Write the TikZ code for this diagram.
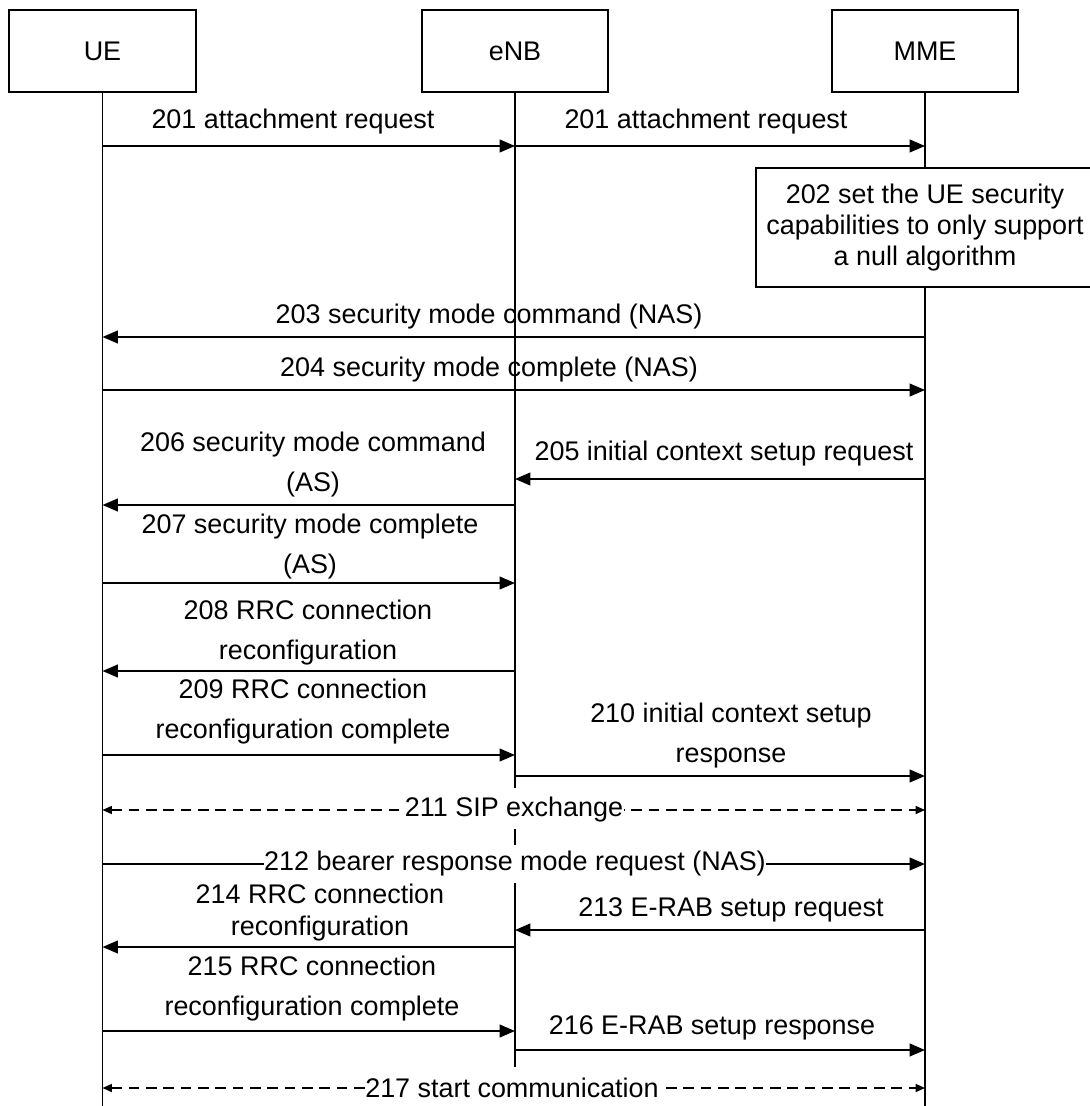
\documentclass[tikz,border=0pt]{standalone}
\usepackage{fontspec}
\setmainfont{Liberation Sans}
\usetikzlibrary{arrows.meta}

\begin{document}
\begin{tikzpicture}[x=0.75pt, y=-0.75pt,
    every node/.style={font=\fontsize{20.2}{30}\selectfont},
    actor/.style={draw, line width=1.7pt, minimum width=140pt, minimum height=61.5pt},
    life/.style={line width=1.1pt},
    msg/.style={line width=1.4pt, -{Triangle[length=11.5pt, width=9.5pt]}},
    exch/.style={line width=1.1pt, dash pattern=on 8pt off 5pt,
      {Triangle[length=7pt, width=6pt]}-{Triangle[length=7pt, width=6pt]}},
    online/.style={fill=white, inner sep=0.5pt}]
    % Fix the page to the reference size
    \useasboundingbox (0,0) rectangle (1089,1106);

    % Actors
    \node[actor] (ue) at (102.5,51) {UE};
    \node[actor] (enb) at (515,51) {eNB};
    \node[actor] (mme) at (925,51) {MME};

    % 202: local step at the MME
    \node[draw, line width=1.7pt, minimum width=253.5pt, minimum height=89pt, align=center,
      font=\fontsize{20.2}{23.5}\selectfont] (nullalg) at (925,227.5)
      {202 set the UE security\\capabilities to only support\\a null algorithm};

    % Lifelines
    \draw[life] (ue.south) -- (ue |- 0,1106);
    \draw[life] (enb.south) -- (enb |- 0,788);
    \draw[life] (enb |- 0,829) -- (enb |- 0,845);
    \draw[life] (enb |- 0,883) -- (enb |- 0,1067);
    \draw[life] (mme.south) -- (nullalg.north);
    \draw[life] (nullalg.south) -- (mme |- 0,1106);

    % 201
    \draw[msg] (ue |- 0,146) -- (enb |- 0,146);
    \node (l201a) at (293,122) {201 attachment request};
    \draw[msg] (enb |- 0,146) -- (mme |- 0,146);
    \node (l201b) at (706,122) {201 attachment request};

    % 203, 204: NAS security mode
    \draw[msg] (mme |- 0,337) -- (ue |- 0,337);
    \node (l203) at (489,317) {203 security mode command (NAS)};
    \draw[msg] (ue |- 0,390) -- (mme |- 0,390);
    \node (l204) at (489,370) {204 security mode complete (NAS)};

    % 205 - 210
    \draw[msg] (mme |- 0,479) -- (enb |- 0,479);
    \node (l205) at (724,454) {205 initial context setup request};
    \draw[msg] (enb |- 0,505) -- (ue |- 0,505);
    \node[align=center] (l206) at (313,465) {206 security mode command\\(AS)};
    \draw[msg] (ue |- 0,583) -- (enb |- 0,583);
    \node[align=center] (l207) at (310,547) {207 security mode complete\\(AS)};
    \draw[msg] (enb |- 0,671) -- (ue |- 0,671);
    \node[align=center] (l208) at (308,633) {208 RRC connection\\reconfiguration};
    \draw[msg] (ue |- 0,755) -- (enb |- 0,755);
    \node[align=center] (l209) at (303,712) {209 RRC connection\\reconfiguration complete};
    \draw[msg] (enb |- 0,776) -- (mme |- 0,776);
    \node[align=center] (l210) at (731,736) {210 initial context setup\\response};

    % 211, 212
    \draw[exch] (ue |- 0,810) -- (mme |- 0,810);
    \node[online] (l211) at (514,810) {211 SIP exchange};
    \draw[msg] (ue |- 0,864) -- (mme |- 0,864);
    \node[online] (l212) at (515,864) {212 bearer response mode request (NAS)};

    % 213 - 216
    \draw[msg] (mme |- 0,930) -- (enb |- 0,930);
    \node (l213) at (731,910) {213 E-RAB setup request};
    \draw[msg] (enb |- 0,947) -- (ue |- 0,947);
    \node[align=center, font=\fontsize{20.2}{23.5}\selectfont] (l214) at (320,912.5)
      {214 RRC connection\\reconfiguration};
    \draw[msg] (ue |- 0,1031) -- (enb |- 0,1031);
    \node[align=center] (l215) at (312,989) {215 RRC connection\\reconfiguration complete};
    \draw[msg] (enb |- 0,1050) -- (mme |- 0,1050);
    \node (l216) at (712,1028) {216 E-RAB setup response};

    % 217
    \draw[exch] (ue |- 0,1088) -- (mme |- 0,1088);
    \node[online] (l217) at (512,1088) {217 start communication};
\end{tikzpicture}
\end{document}
